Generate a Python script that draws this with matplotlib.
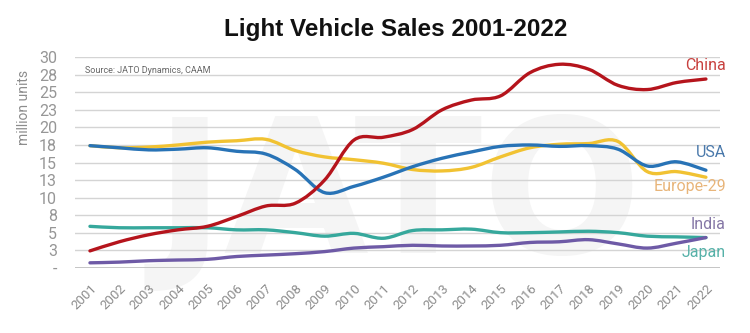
import numpy as np
import matplotlib
matplotlib.use("Agg")
import matplotlib.pyplot as plt
from matplotlib.path import Path
from matplotlib.patches import PathPatch

# sales in million units
years = list(range(2001, 2023))
china = [2.4, 3.7, 4.7, 5.4, 5.9, 7.3, 8.8, 9.2, 12.5, 18.2, 18.6, 19.7,
         22.5, 23.9, 24.5, 27.8, 29.0, 28.3, 26.0, 25.4, 26.4, 26.9]
usa = [17.4, 17.1, 16.8, 16.9, 17.1, 16.6, 16.2, 14.0, 10.7, 11.6, 12.9, 14.4,
       15.6, 16.5, 17.3, 17.5, 17.3, 17.4, 16.9, 14.5, 15.1, 13.9]
europe = [17.4, 17.1, 17.2, 17.5, 17.9, 18.1, 18.3, 16.7, 15.8, 15.4, 14.9, 14.0,
          13.8, 14.3, 15.8, 17.1, 17.6, 17.7, 18.0, 13.7, 13.7, 12.9]
india = [0.7, 0.8, 1.0, 1.1, 1.2, 1.6, 1.8, 2.0, 2.3, 2.8, 3.0, 3.2,
         3.1, 3.1, 3.2, 3.6, 3.7, 4.0, 3.4, 2.8, 3.5, 4.3]
japan = [5.9, 5.7, 5.7, 5.7, 5.7, 5.4, 5.4, 5.0, 4.5, 4.9, 4.2, 5.3,
         5.4, 5.5, 5.0, 5.0, 5.1, 5.2, 5.0, 4.5, 4.4, 4.3]

series_names = ["China", "USA", "Europe-29", "India", "Japan"]
line_colors = ["#b5141c", "#2873b6", "#f1c232", "#6e5aa6", "#36a89c"]
label_colors = ["#c8413f", "#4a79ab", "#e8b57a", "#8577a6", "#56b1a8"]
label_y = [28.8, 16.4, 11.6, 6.1, 2.2]

yticks = np.arange(0, 30.1, 2.5)
ytick_labels = ["-", "3", "5", "8", "10", "13", "15", "18", "20", "23", "25", "28", "30"]

plt.rcParams['font.family'] = ['Roboto', 'DejaVu Sans']


# smooth curve through the points (Catmull-Rom as bezier segments)
def smooth_path(xs, ys):
    pts = np.column_stack([xs, ys]).astype(float)
    verts = [pts[0]]
    codes = [Path.MOVETO]
    n = len(pts)
    for i in range(n - 1):
        p0 = pts[i - 1] if i > 0 else pts[i]
        p1 = pts[i]
        p2 = pts[i + 1]
        p3 = pts[i + 2] if i + 2 < n else pts[i + 1]
        verts += [p1 + (p2 - p0) / 6, p2 - (p3 - p1) / 6, p2]
        codes += [Path.CURVE4] * 3
    return Path(verts, codes)


fig = plt.figure(figsize=(7.5, 3.33), dpi=100)
ax = fig.add_axes([0.1, 0.196, 0.86, 0.632])

# faint watermark
ax.text(2011.5, 9.5, "JATO", fontsize=135, fontweight="bold", color="#f5f5f5",
        ha="center", va="center", zorder=0, family="DejaVu Sans")

for vals, col in zip([japan, india, europe, usa, china], line_colors[::-1]):
    ax.add_patch(PathPatch(smooth_path(years, vals), fill=False, edgecolor=col,
                           lw=2.4, capstyle="round", zorder=3))

for name, col, ly in zip(series_names, label_colors, label_y):
    ax.text(2022.68, ly, name, color=col, fontsize=11.5, ha="right", va="center",
            clip_on=False)

ax.set_xlim(2000.49, 2022.48)
ax.set_ylim(0, 30)
ax.set_yticks(yticks)
ax.set_yticklabels(ytick_labels)
ax.set_xticks(years)
ax.set_xticklabels([str(y) for y in years], rotation=45, ha="right",
                   rotation_mode="anchor")
ax.tick_params(axis="y", length=0, pad=13, labelsize=11.5, labelcolor="#969696")
ax.tick_params(axis="x", length=0, pad=10, labelsize=9.5, labelcolor="#8c8c8c")
ax.grid(axis="y", color="#d4d4d4", lw=1, zorder=1)
ax.set_axisbelow(True)
for s in ax.spines.values():
    s.set_visible(False)
ax.axhline(0, color="#bdbdbd", lw=1.2, zorder=2)

ax.set_ylabel("million units", color="#8c8c8c", fontsize=10)
ax.yaxis.set_label_coords(-0.068, 0.76)

ax.text(0.015, 0.935, "Source: JATO Dynamics, CAAM", transform=ax.transAxes,
        fontsize=6.5, color="#666666", va="center")

fig.text(0.527, 0.91, "Light Vehicle Sales 2001-2022", ha="center", va="center",
         fontsize=17.5, fontweight="bold", family="Liberation Sans", color="#111111")

fig.savefig("out.png", dpi=100, facecolor="white")
